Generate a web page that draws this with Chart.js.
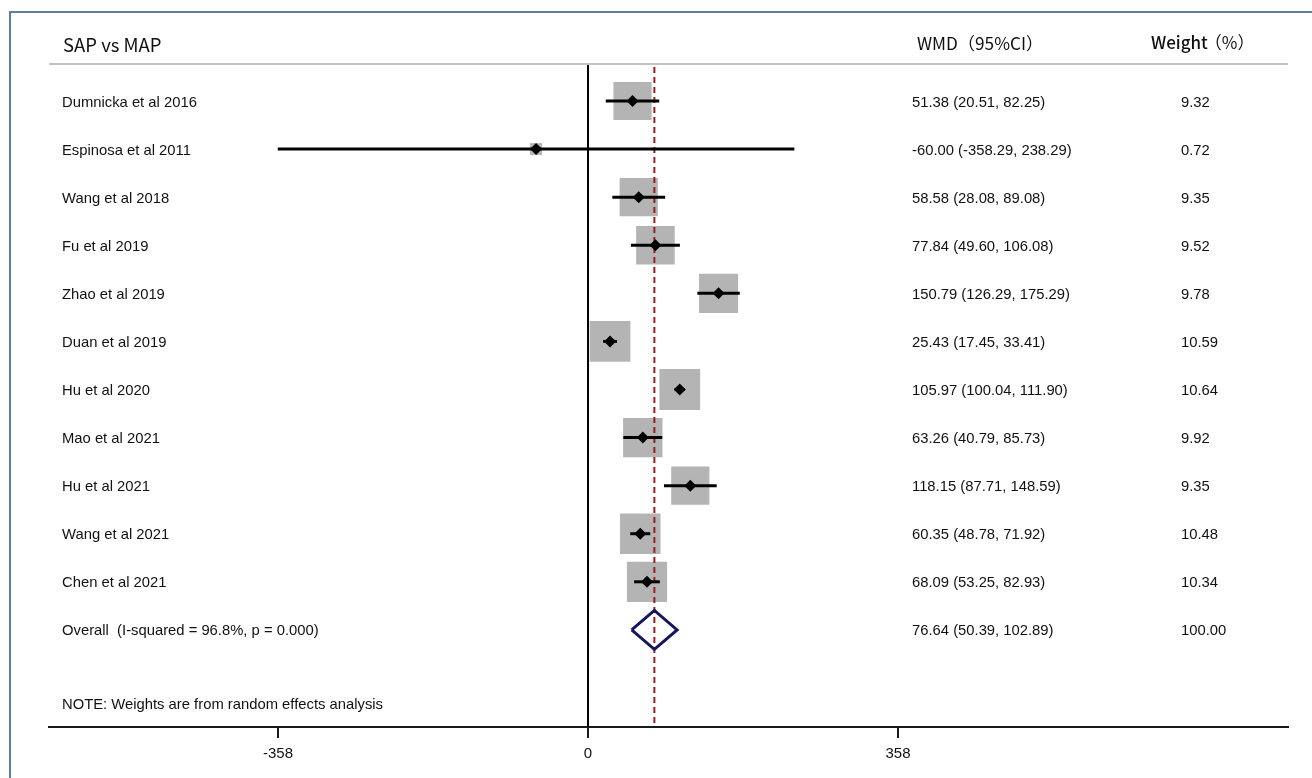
<!DOCTYPE html>
<html><head><meta charset="utf-8">
<script src="https://cdn.jsdelivr.net/npm/chart.js@4.4.0/dist/chart.umd.min.js"></script>
<style>html,body{margin:0;padding:0;background:#fff;} canvas{display:block}</style>
</head><body>
<canvas id="c" width="1312" height="778"></canvas>
<script>
// ---- data ----
const studies = ["Dumnicka et al 2016","Espinosa et al 2011","Wang et al 2018","Fu et al 2019","Zhao et al 2019","Duan et al 2019","Hu et al 2020","Mao et al 2021","Hu et al 2021","Wang et al 2021","Chen et al 2021"];
const wmd    = [51.38, -60.00, 58.58, 77.84, 150.79, 25.43, 105.97, 63.26, 118.15, 60.35, 68.09];
const ciLow  = [20.51, -358.29, 28.08, 49.60, 126.29, 17.45, 100.04, 40.79, 87.71, 48.78, 53.25];
const ciHigh = [82.25, 238.29, 89.08, 106.08, 175.29, 33.41, 111.90, 85.73, 148.59, 71.92, 82.93];
const weights = [9.32, 0.72, 9.35, 9.52, 9.78, 10.59, 10.64, 9.92, 9.35, 10.48, 10.34];
const overallLabel = "Overall  (I-squared = 96.8%, p = 0.000)";
const overallWmd = 76.64;
const overallLow = 50.39;
const overallHigh = 102.89;
const overallWeight = 100.00;
const xTicks = [-358, 0, 358];
const titleText = "SAP vs MAP";
const noteText = "NOTE: Weights are from random effects analysis";

// ---- layout constants ----
const Y_MIN = -0.77, Y_MAX = 13.02;
const OVERALL_ROW = studies.length;
const NOTE_ROW = 12.52;
const LABEL_FONT = '14.8px "Liberation Sans", Arial, sans-serif';
const HEAD_FONT = '"Noto Sans CJK SC", sans-serif';
const TEXT_DY = 1.5;

const fmt = v => v.toFixed(2);

const datasets = [];
// weight boxes
datasets.push({
  type: 'scatter', order: 6,
  data: studies.map((s, i) => ({x: wmd[i], y: i})),
  pointStyle: 'rect',
  pointRadius: weights.map(w => Math.max(12.5 * Math.sqrt(w), 12) / Math.SQRT2),
  pointHoverRadius: weights.map(w => Math.max(12.5 * Math.sqrt(w), 12) / Math.SQRT2),
  backgroundColor: '#b4b4b4', borderWidth: 0
});
// zero line
datasets.push({
  type: 'line', order: 5, data: [{x: 0, y: Y_MIN}, {x: 0, y: Y_MAX}],
  borderColor: '#000', borderWidth: 2, pointRadius: 0, fill: false
});
// dashed overall line
datasets.push({
  type: 'line', order: 4, data: [{x: overallWmd, y: Y_MIN + 0.06}, {x: overallWmd, y: Y_MAX}],
  borderColor: '#9b1c1c', borderWidth: 2, borderDash: [6, 4], pointRadius: 0, fill: false
});
// CI lines
studies.forEach((s, i) => {
  datasets.push({
    type: 'line', order: 3, data: [{x: ciLow[i], y: i}, {x: ciHigh[i], y: i}],
    borderColor: '#000', borderWidth: 3, pointRadius: 0, fill: false, borderCapStyle: 'butt'
  });
});
// point markers
datasets.push({
  type: 'scatter', order: 2,
  data: studies.map((s, i) => ({x: wmd[i], y: i})),
  pointStyle: 'rectRot', pointRadius: 6, pointHoverRadius: 6,
  backgroundColor: '#000', borderWidth: 0
});
// overall diamond
const DH = 0.405;
datasets.push({
  type: 'line', order: 1,
  data: [{x: overallLow, y: OVERALL_ROW}, {x: overallWmd, y: OVERALL_ROW - DH}, {x: overallHigh, y: OVERALL_ROW}, {x: overallWmd, y: OVERALL_ROW + DH}, {x: overallLow, y: OVERALL_ROW}],
  borderColor: '#16165e', borderWidth: 3, borderJoinStyle: 'miter', pointRadius: 0, fill: false, tension: 0
});

const textPlugin = {
  id: 'forestText',
  afterDraw(chart) {
    const ctx = chart.ctx;
    const ys = chart.scales.y;
    const ca = chart.chartArea;
    ctx.save();
    // frame
    ctx.strokeStyle = '#5b7fa6'; ctx.lineWidth = 2;
    ctx.beginPath(); ctx.moveTo(10, 778); ctx.lineTo(10, 12); ctx.lineTo(1312, 12); ctx.stroke();
    // header separator
    ctx.strokeStyle = '#c2c2c2'; ctx.lineWidth = 2;
    ctx.beginPath(); ctx.moveTo(ca.left, ca.top); ctx.lineTo(ca.right, ca.top); ctx.stroke();
    // headers
    ctx.fillStyle = '#111'; ctx.textBaseline = 'middle'; ctx.textAlign = 'left';
    ctx.font = '18.5px ' + HEAD_FONT; ctx.fillText(titleText, 63, 45);
    ctx.font = '17.2px ' + HEAD_FONT; ctx.fillText('WMD（95%CI）', 917, 43);
    ctx.font = '500 17px ' + HEAD_FONT; ctx.fillText('Weight', 1151, 43);
    const ww = ctx.measureText('Weight').width;
    ctx.font = '17px ' + HEAD_FONT; ctx.fillText('（%）', 1151 + ww - 3, 43);
    // rows
    ctx.font = LABEL_FONT;
    studies.forEach((s, i) => {
      const y = ys.getPixelForValue(i) + TEXT_DY;
      ctx.fillText(s, 62, y);
      ctx.fillText(`${fmt(wmd[i])} (${fmt(ciLow[i])}, ${fmt(ciHigh[i])})`, 912, y);
      ctx.fillText(fmt(weights[i]), 1181, y);
    });
    const yo = ys.getPixelForValue(OVERALL_ROW) + TEXT_DY;
    ctx.fillText(overallLabel, 62, yo);
    ctx.fillText(`${fmt(overallWmd)} (${fmt(overallLow)}, ${fmt(overallHigh)})`, 912, yo);
    ctx.fillText(fmt(overallWeight), 1181, yo);
    ctx.fillText(noteText, 62, ys.getPixelForValue(NOTE_ROW) + TEXT_DY);
    ctx.restore();
  }
};

new Chart(document.getElementById('c'), {
  data: {datasets},
  options: {
    responsive: false, animation: false,
    layout: {autoPadding: false, padding: {left: 49, right: 24, top: 64, bottom: 0}},
    plugins: {legend: {display: false}, tooltip: {enabled: false}},
    scales: {
      x: {
        type: 'linear', position: 'bottom', min: -622.5, max: 808.4,
        afterBuildTicks: s => { s.ticks = xTicks.map(v => ({value: v})); },
        afterFit: s => { s.height = 51; s.paddingLeft = 0; s.paddingRight = 0; },
        border: {display: true, color: '#1a1a1a', width: 2},
        grid: {display: true, drawOnChartArea: false, drawTicks: true, tickLength: 11, color: '#1a1a1a', lineWidth: 2},
        ticks: {color: '#111', font: {family: '"Liberation Sans", Arial, sans-serif', size: 15}, padding: 7, callback: v => String(v), maxRotation: 0}
      },
      y: {type: 'linear', min: Y_MIN, max: Y_MAX, reverse: true, display: false}
    }
  },
  plugins: [textPlugin]
});
</script>
</body></html>
